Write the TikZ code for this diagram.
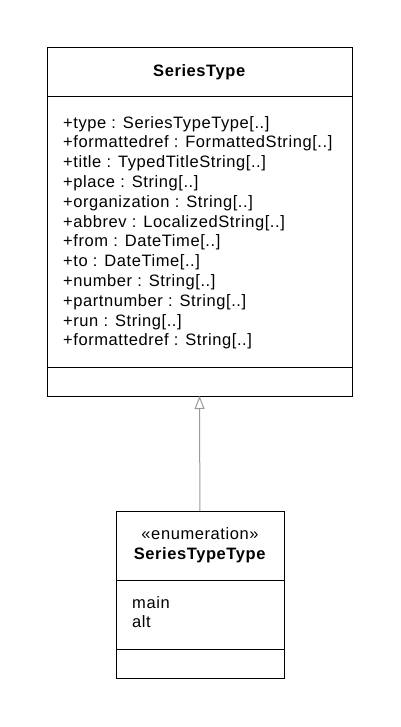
\documentclass[tikz,border=0pt]{standalone}
\usepackage{fontspec}
\setmainfont{Liberation Sans}[LetterSpace=3.5]
\usetikzlibrary{arrows.meta}
\definecolor{edgegray}{HTML}{999999}
\begin{document}
\begin{tikzpicture}[x=1pt, y=-1pt, font=\fontsize{16.5}{19.8}\selectfont]
\tikzstyle{c} = [draw=black, line width=1pt, rectangle, inner sep=0pt, outer sep=0pt, anchor=north]
\tikzstyle{t} = [inner sep=0pt, anchor=base west, align=left]
\tikzstyle{g} = [draw=edgegray, line width=1pt, -{Triangle[open, length=13pt, width=10pt]}]

\useasboundingbox (0, 0) rectangle (400, 727);

% SeriesType class
\node[c, minimum width=305pt, minimum height=49pt] (sHead) at (199.5, 48) {\textbf{SeriesType}};
\node[c, minimum width=305pt, minimum height=270pt] (sAttrs) at (sHead.south) {};
\node[c, minimum width=305pt, minimum height=29pt] (sOps) at (sAttrs.south) {};
% base anchor sits on the last line
\node[t] (sText) at (63, 345.8) {+type : SeriesTypeType[..]\\+formattedref : FormattedString[..]\\+title : TypedTitleString[..]\\+place : String[..]\\+organization : String[..]\\+abbrev : LocalizedString[..]\\+from : DateTime[..]\\+to : DateTime[..]\\+number : String[..]\\+partnumber : String[..]\\+run : String[..]\\+formattedref : String[..]};

% SeriesTypeType enumeration
\node[c, minimum width=168pt, minimum height=69pt, align=center] (eHead) at (200, 511) {«enumeration»\\\textbf{SeriesTypeType}};
\node[c, minimum width=168pt, minimum height=69pt] (eAttrs) at (eHead.south) {};
\node[c, minimum width=168pt, minimum height=29pt] (eOps) at (eAttrs.south) {};
\node[t] (eText) at (132, 627.8) {main\\alt};

\draw[g] (eHead) to (sOps);
\end{tikzpicture}
\end{document}
